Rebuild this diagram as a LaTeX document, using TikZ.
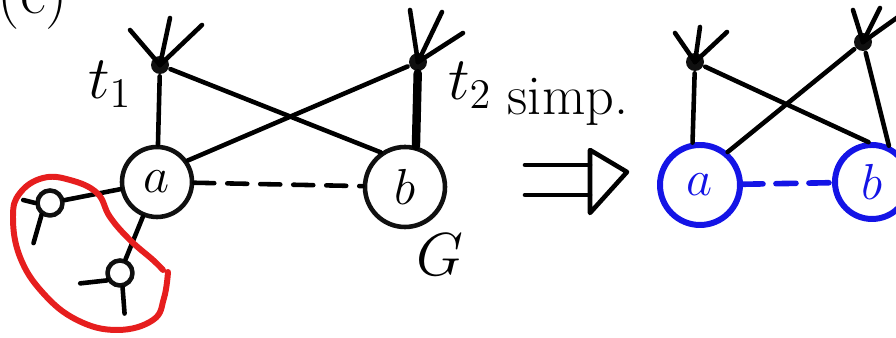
\documentclass[tikz,border=0pt]{standalone}
\usepackage{tikz}
\usetikzlibrary{arrows.meta, calc, positioning}
\definecolor{Ink}{HTML}{101010}
\definecolor{Pen}{HTML}{1414E6}
\definecolor{Marker}{HTML}{E61E1E}

\begin{document}
\begin{tikzpicture}[x=0.1mm, y=0.1mm, line width=1.3pt, line cap=round, line join=round,
  hub/.style={circle, fill=Ink, inner sep=0pt, minimum size=1.8mm},
  vtx/.style={circle, draw=Ink, inner sep=0pt, minimum size=#1, font=\fontsize{15}{17}\selectfont},
  tiny/.style={circle, draw=Ink, inner sep=0pt, minimum size=2.5mm},
  bluevtx/.style={circle, draw=Pen, line width=1.7pt, inner sep=0pt, text=Pen, minimum size=#1, font=\fontsize{15}{17}\selectfont},
  lbl/.style={font=\fontsize{18}{20}\selectfont},
  dash line/.style={dash pattern=on 2mm off 1.3mm}]
  \useasboundingbox (0,0) rectangle (896,338);

  \node[lbl, anchor=base] (tag) at (33,324) {(c)};

  % graph G
  \node[hub] (t1) at (160,273) {};
  \node[hub] (t2) at (418,276) {};
  \node[vtx=7mm] (a) at (157,156) {$a$};
  \node[vtx=8mm] (b) at (405,151) {$b$};
  \foreach \dx/\dy in {-30/35, 10/47, 42/40} {
    \draw (t1.center) -- ++(\dx,\dy);
  }
  \foreach \dx/\dy in {-8/52, 24/50, 45/29} {
    \draw (t2.center) -- ++(\dx,\dy);
  }
  \draw (t1) -- (a);
  \draw (t1) -- (b.125);
  \draw (a.35) -- (t2);
  \draw[line width=2.4pt] (t2) -- (b.75);
  \draw[dash line] (a) -- (b);
  \node[lbl] (t1lbl) at (110,254) {$t_1$};
  \node[lbl] (t2lbl) at (470,253) {$t_2$};
  \node[lbl] (glbl) at (440,83) {$G$};

  % pendant part of a
  \node[tiny] (l1) at (50,135) {};
  \node[tiny] (l2) at (120,65) {};
  \draw (l1) -- (a);
  \draw (l2) -- (a);
  \draw (l1.west) -- ++(-12,3);
  \draw (l1.235) -- ++(-8,-28);
  \draw (l2.210) -- ++(-27,-3);
  \draw (l2.-80) -- ++(2,-26);
  \draw[Marker, line width=1.7pt] plot[smooth, tension=0.7] coordinates {
    (168,66) (164,40) (153,18) (117,8) (77,18) (43,45) (20,81) (13,121)
    (20,145) (43,160) (70,158) (97,145) (110,121) (130,98) (153,78) (163,68)};

  % simplification
  \node[font=\fontsize{16}{18}\selectfont] (simp) at (568,236) {simp.};
  \draw (525,173) -- (590,173);
  \draw (525,143) -- (590,143);
  \draw (590,188) -- (627,166) -- (590,125) -- cycle;

  % simplified graph
  \node[hub] (u1) at (695,276) {};
  \node[hub] (u2) at (863,296) {};
  \node[bluevtx=8mm] (a2) at (700,153) {$a$};
  \node[bluevtx=7.4mm] (b2) at (872,156) {$b$};
  \foreach \dx/\dy in {-20/29, 5/35, 32/30} {
    \draw (u1.center) -- ++(\dx,\dy);
  }
  \foreach \dx/\dy in {-10/32, 17/34, 35/25} {
    \draw (u2.center) -- ++(\dx,\dy);
  }
  \draw (u1) -- (a2.100);
  \draw (u1) -- (b2.95);
  \draw (u2) -- (a2.50);
  \draw (u2) -- (b2.65);
  \draw[Pen, dash line, line width=1.6pt] (a2) -- (b2);
\end{tikzpicture}
\end{document}
